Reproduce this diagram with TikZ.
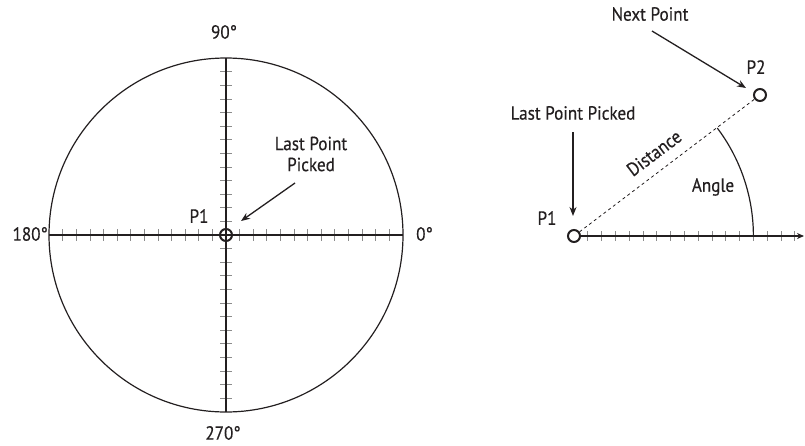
\documentclass[tikz,border=0pt]{standalone}
\usepackage{fontspec}
\setmainfont{PT Sans}[FakeStretch=0.9,FakeBold=0.4]
\usepackage{xcolor}
\usetikzlibrary{arrows.meta,positioning}
\definecolor{diaInk}{HTML}{231F20}
\definecolor{diaTick}{HTML}{8C8C8C}
\tikzset{
  lbl/.style={font=\fontsize{19}{21}\selectfont,text=diaInk,inner sep=0pt,align=center},
  axis/.style={draw=diaInk,line width=1.3pt},
  tickmark/.style={draw=diaTick,line width=0.9pt},
  ring/.style={draw=diaInk,line width=1.2pt},
  pick/.style={circle,draw=diaInk,line width=2pt,minimum size=12pt,inner sep=0pt},
  arr/.style={-{Stealth[length=9pt,width=7pt]},draw=diaInk,line width=1.3pt},
  dashline/.style={draw=diaInk,dashed,line width=0.8pt},
}

\begin{document}
\begin{tikzpicture}[x=1pt,y=-1pt]
  \useasboundingbox (0,0) rectangle (805,445);
  % polar frame
  \foreach \k in {1,...,12}{
    \draw[tickmark] (226+13.6*\k,229) -- ++(0,12);
    \draw[tickmark] (226-13.6*\k,229) -- ++(0,12);
    \draw[tickmark] (220,235+13.6*\k) -- ++(12,0);
    \draw[tickmark] (220,235-13.6*\k) -- ++(12,0);
  }
  \draw[ring] (226,235) circle[radius=177];
  \draw[axis] (49,235) -- (403,235);
  \draw[axis] (226,58) -- (226,412);
  \node[pick] (p1L) at (226,235) {};
  \node[lbl] (d90) at (224,32) {90°};
  \node[lbl] (d270) at (223,433) {270°};
  \node[lbl,anchor=east] (d180) at (48,234) {180°};
  \node[lbl,anchor=west] (d0) at (416,234) {0°};
  \node[lbl] (p1Llbl) at (199,216) {P1};
  \node[lbl] (lastL) at (311,154) {Last Point\\Picked};
  \coordinate (lastLtail) at (295,183);
  \coordinate (lastLhead) at (241,221);
  \draw[arr] (lastLtail) -- (lastLhead);
  % relative point
  \foreach \k in {1,...,16}
    \draw[tickmark] (574+13.8*\k,231) -- ++(0,10);
  \node[pick] (p1R) at (574,236) {};
  \node[pick] (p2) at (760,95) {};
  \coordinate (axEnd) at (804,236);
  \draw[axis,-{Stealth[length=7pt,width=6pt]}] (p1R) -- (axEnd);
  \draw[dashline] (p1R) -- (p2);
  \draw[ring] (753.4,236) arc[start angle=0,end angle=-37,radius=179.4];
  \node[lbl] (p2lbl) at (756,67) {P2};
  \node[lbl] (next) at (650,14) {Next Point};
  \coordinate (nextTail) at (652,31);
  \coordinate (nextHead) at (746,88);
  \draw[arr] (nextTail) -- (nextHead);
  \node[lbl] (lastR) at (573,113) {Last Point Picked};
  \coordinate (lastRtail) at (573,132);
  \coordinate (lastRhead) at (573,216);
  \draw[arr] (lastRtail) -- (lastRhead);
  \node[lbl] (p1Rlbl) at (547,218) {P1};
  \node[lbl,rotate=37] (dist) at (654,153) {Distance};
  \node[lbl] (angle) at (713,187) {Angle};
\end{tikzpicture}
\end{document}
